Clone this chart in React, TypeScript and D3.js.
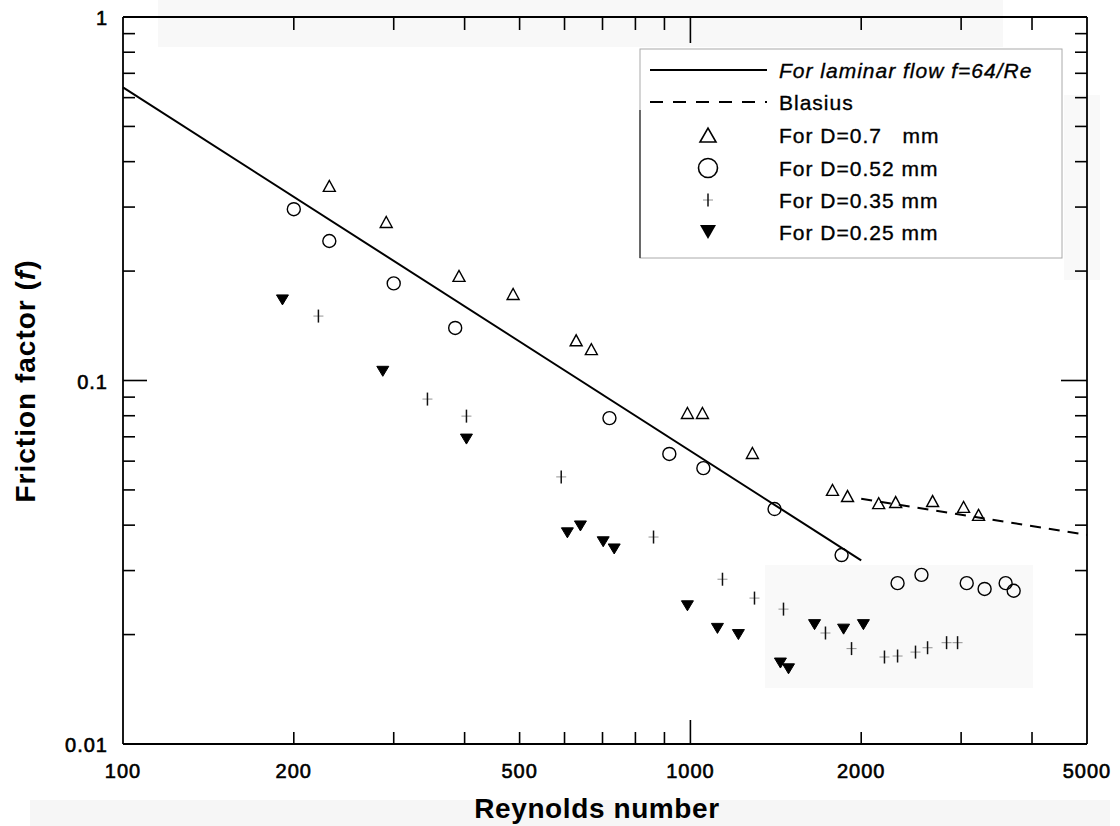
import React from "react";
import * as d3 from "d3";

// ---- data ----
const reD07 = [231, 291, 391, 487, 629, 669, 988, 1050, 1286, 1780, 1892, 2147, 2300, 2672, 3030, 3220];
const fD07 = [0.343, 0.273, 0.194, 0.173, 0.129, 0.122, 0.0814, 0.0814, 0.0632, 0.05, 0.0481, 0.046, 0.0463, 0.0466, 0.0449, 0.0427];

const reD052 = [200, 231, 300, 385, 720, 918, 1054, 1407, 1847, 2318, 2554, 3069, 3300, 3594, 3713];
const fD052 = [0.296, 0.242, 0.185, 0.1395, 0.0788, 0.0628, 0.0574, 0.0443, 0.0331, 0.0277, 0.0292, 0.0277, 0.0267, 0.0277, 0.0264];

const reD035 = [221, 344, 403, 592, 861, 1139, 1297, 1459, 1730, 1923, 2198, 2318, 2493, 2618, 2828, 2957];
const fD035 = [0.1504, 0.0889, 0.0798, 0.0543, 0.0371, 0.0284, 0.0252, 0.0235, 0.0202, 0.0183, 0.01735, 0.01746, 0.0179, 0.0184, 0.019, 0.019];

const reD025 = [191, 287, 403, 607, 640, 702, 734, 988, 1116, 1215, 1441, 1489, 1655, 1862, 2018];
const fD025 = [0.1666, 0.106, 0.069, 0.0381, 0.0398, 0.036, 0.0344, 0.024, 0.0208, 0.02, 0.0167, 0.0161, 0.0213, 0.0207, 0.0213];

// theoretical lines (endpoints)
const laminarRe = [100, 2000];
const laminarF = [0.64, 0.032];
const blasiusRe = [2000, 5000];
const blasiusF = [0.0473, 0.0376];

const xTickLabels = [100, 200, 500, 1000, 2000, 5000];
const xMinorTicks = [200, 300, 400, 500, 600, 700, 800, 900, 2000, 3000, 4000];
const xMajorTicks = [1000];
const yTickLabels = ["1", "0.1", "0.01"];
const yTickValues = [1, 0.1, 0.01];
const yMinorTicks = [0.02, 0.03, 0.04, 0.05, 0.06, 0.07, 0.08, 0.09, 0.2, 0.3, 0.4, 0.5, 0.6, 0.7, 0.8, 0.9];
const yMajorTicks = [0.1];

const legendLabels = [
  "For laminar flow f=64/Re",
  "Blasius",
  "For D=0.7\u00A0\u00A0\u00A0mm",
  "For D=0.52 mm",
  "For D=0.35 mm",
  "For D=0.25 mm",
];

const W = 1120;
const H = 826;
const L = 123, R = 1087, T = 17, B = 744;

const x = d3.scaleLog().domain([100, 5000]).range([L, R]);
const y = d3.scaleLog().domain([0.01, 1]).range([B, T]);

const FONT = "Arial, 'Liberation Sans', Helvetica, sans-serif";

function triUp(cx: number, cy: number, w: number, h: number) {
  return `M${cx - w / 2},${cy + h / 2}L${cx + w / 2},${cy + h / 2}L${cx},${cy - h / 2}Z`;
}
function triDown(cx: number, cy: number, w: number, h: number) {
  return `M${cx - w / 2},${cy - h / 2}L${cx + w / 2},${cy - h / 2}L${cx},${cy + h / 2}Z`;
}

function Plus({ cx, cy, s = 1 }: { cx: number; cy: number; s?: number }) {
  return (
    <g>
      <line x1={cx - 5 * s} x2={cx + 5 * s} y1={cy} y2={cy} stroke="#777" strokeWidth={0.8} />
      <line x1={cx} x2={cx} y1={cy - 6.5 * s} y2={cy + 6.5 * s} stroke="#111" strokeWidth={1.5} />
    </g>
  );
}

export default function App() {
  const line = d3
    .line<[number, number]>()
    .x((d) => x(d[0]))
    .y((d) => y(d[1]));

  const lamPts: [number, number][] = laminarRe.map((r, i) => [r, laminarF[i]]);
  const blaPts: [number, number][] = blasiusRe.map((r, i) => [r, blasiusF[i]]);

  const legX0 = 640, legY0 = 49, legX1 = 1062, legY1 = 258;
  const rowY = [70, 102, 135, 168, 200, 232];
  const symX = 708;
  const textX = 779;

  return (
    <svg
      width={W}
      height={H}
      style={{ position: "absolute", left: 0, top: 0, background: "#fff" }}
      fontFamily={FONT}
    >
      {/* faint scan-like background patches */}
      <rect x={158} y={0} width={845} height={47} fill="#f8f8f8" />
      <rect x={765} y={565} width={268} height={123} fill="#f9f9f9" />
      <rect x={1064} y={95} width={36} height={185} fill="#f9f9f9" />
      <rect x={30} y={800} width={1080} height={26} fill="#f6f6f6" />

      {/* axes frame */}
      <g stroke="#000" strokeWidth={1.8} fill="none">
        <line x1={L} x2={R} y1={T} y2={T} />
        <line x1={L} x2={R} y1={B} y2={B} />
        <line x1={L} x2={L} y1={T} y2={B} />
        <line x1={R} x2={R} y1={T} y2={B} />
      </g>

      {/* ticks */}
      <g stroke="#000" strokeWidth={1.6}>
        {xMinorTicks.map((v) => (
          <g key={"xm" + v}>
            <line x1={x(v)} x2={x(v)} y1={B} y2={B - 12} />
            <line x1={x(v)} x2={x(v)} y1={T} y2={T + 13} />
          </g>
        ))}
        {xMajorTicks.map((v) => (
          <g key={"xM" + v}>
            <line x1={x(v)} x2={x(v)} y1={B} y2={B - 24} />
            <line x1={x(v)} x2={x(v)} y1={T} y2={T + 26} />
          </g>
        ))}
        {yMinorTicks.map((v) => (
          <g key={"ym" + v}>
            <line x1={L} x2={L + 12} y1={y(v)} y2={y(v)} />
            <line x1={R} x2={R - 12} y1={y(v)} y2={y(v)} />
          </g>
        ))}
        {yMajorTicks.map((v) => (
          <g key={"yM" + v}>
            <line x1={L} x2={L + 24} y1={y(v)} y2={y(v)} />
            <line x1={R} x2={R - 26} y1={y(v)} y2={y(v)} />
          </g>
        ))}
      </g>

      {/* tick labels */}
      <g fontSize={20} fill="#000" stroke="#000" strokeWidth={0.6} letterSpacing={1}>
        {xTickLabels.map((v) => (
          <text key={"xl" + v} x={x(v)} y={778} textAnchor="middle">
            {v}
          </text>
        ))}
        {yTickValues.map((v, i) => (
          <text key={"yl" + v} x={108} y={y(v) + 8} textAnchor="end">
            {yTickLabels[i]}
          </text>
        ))}
      </g>

      {/* axis titles */}
      <text x={597} y={818} textAnchor="middle" fontSize={28} fontWeight="bold" letterSpacing={0.6}>
        Reynolds number
      </text>
      <text
        transform="translate(35,381) rotate(-90)"
        textAnchor="middle"
        fontSize={28}
        fontWeight="bold"
        letterSpacing={1}
      >
        Friction factor (<tspan fontStyle="italic">f</tspan>)
      </text>

      {/* theory lines */}
      <path d={line(lamPts) || ""} fill="none" stroke="#000" strokeWidth={2} />
      <path d={line(blaPts) || ""} fill="none" stroke="#000" strokeWidth={2} strokeDasharray="11,8" />

      {/* D=0.7 open triangles */}
      <g fill="none" stroke="#000" strokeWidth={1.4}>
        {reD07.map((r, i) => (
          <path key={"t" + i} d={triUp(x(r), y(fD07[i]), 12, 11)} />
        ))}
      </g>
      {/* D=0.52 open circles */}
      <g fill="none" stroke="#000" strokeWidth={1.4}>
        {reD052.map((r, i) => (
          <circle key={"c" + i} cx={x(r)} cy={y(fD052[i])} r={6.5} />
        ))}
      </g>
      {/* D=0.35 plus */}
      {reD035.map((r, i) => (
        <Plus key={"p" + i} cx={x(r)} cy={y(fD035[i])} />
      ))}
      {/* D=0.25 filled down triangles */}
      <g fill="#000" stroke="#000" strokeWidth={1}>
        {reD025.map((r, i) => (
          <path key={"d" + i} d={triDown(x(r), y(fD025[i]), 12, 10)} />
        ))}
      </g>

      {/* legend */}
      <rect x={legX0} y={legY0} width={legX1 - legX0} height={legY1 - legY0} fill="#fff" stroke="#aaa" strokeWidth={1} />
      <line x1={legX0} x2={legX0} y1={110} y2={legY1} stroke="#222" strokeWidth={1.2} />
      <line x1={650} x2={767} y1={rowY[0]} y2={rowY[0]} stroke="#000" strokeWidth={2} />
      <line x1={650} x2={767} y1={rowY[1]} y2={rowY[1]} stroke="#000" strokeWidth={2} strokeDasharray="13,10" />
      <path d={triUp(symX, rowY[2], 16, 14)} fill="none" stroke="#000" strokeWidth={1.6} />
      <circle cx={symX} cy={rowY[3]} r={9.5} fill="none" stroke="#000" strokeWidth={1.6} />
      <Plus cx={symX} cy={rowY[4]} s={1} />
      <path d={triDown(symX, rowY[5], 16, 14)} fill="#000" />
      <g fontSize={21} fill="#000" letterSpacing={1} stroke="#000" strokeWidth={0.35}>
        {legendLabels.map((t, i) => (
          <text key={"lg" + i} x={textX} y={rowY[i] + 8} fontStyle={i === 0 ? "italic" : "normal"}>
            {t}
          </text>
        ))}
      </g>
    </svg>
  );
}
